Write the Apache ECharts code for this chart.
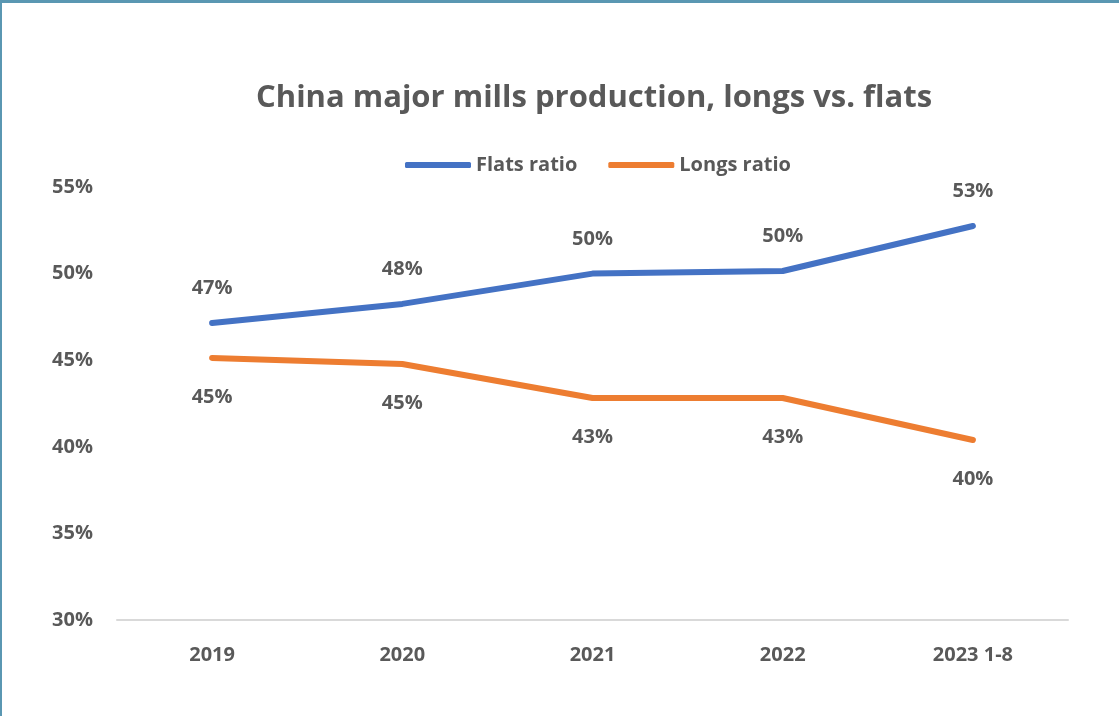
<!DOCTYPE html>
<html><head><meta charset="utf-8">
<script src="https://cdn.jsdelivr.net/npm/echarts@6/dist/echarts.min.js"></script>
<style>
html,body{margin:0;padding:0;background:#fff;}
#wrap{position:absolute;left:0;top:0;width:1119px;height:716px;box-sizing:border-box;border-top:3px solid #5A97B2;border-left:2px solid #5A97B2;}
#c{position:absolute;left:0;top:0;width:1119px;height:716px;}
</style></head>
<body>
<div id="c"></div>
<div id="wrap"></div>
<script>
const categories = ['2019','2020','2021','2022','2023 1-8'];
const flats = [47.15, 48.25, 50.0, 50.15, 52.75];
const longs = [45.13, 44.78, 42.82, 42.82, 40.39];
const yTicks = [30, 35, 40, 45, 50, 55];

const font = '"Open Sans", sans-serif';
const gray = '#595959';
const chart = echarts.init(document.getElementById('c'));
const lbl = {fontFamily: font, fontSize: 20, fontWeight: 'bold', color: gray};
chart.setOption({
  animation: false,
  title: {
    text: 'China major mills production, longs vs. flats',
    left: 251, top: 78,
    textStyle: {fontFamily: font, fontSize: 31, fontWeight: 'bold', color: gray}
  },
  legend: {
    top: 150, left: 400,
    itemWidth: 66, itemHeight: 6, itemGap: 31,
    icon: 'roundRect',
    textStyle: {fontFamily: font, fontSize: 20, fontWeight: 'bold', color: gray},
    data: ['Flats ratio', 'Longs ratio']
  },
  grid: {left: 117, right: 51, top: 187, bottom: 96},
  xAxis: {
    type: 'category', data: categories, boundaryGap: true,
    axisLine: {lineStyle: {color: '#d9d9d9', width: 2}},
    axisTick: {show: false},
    axisLabel: Object.assign({margin: 25}, lbl)
  },
  yAxis: {
    type: 'value', min: yTicks[0], max: yTicks[yTicks.length-1], interval: 5,
    splitLine: {show: false},
    axisLine: {show: false}, axisTick: {show: false},
    axisLabel: Object.assign({margin: 24, formatter: v => v + '%'}, lbl)
  },
  series: [
    {name: 'Flats ratio', type: 'line', data: flats, symbol: 'circle', symbolSize: 1, showSymbol: true,
     lineStyle: {width: 6, color: '#4472C4', cap: 'round'}, itemStyle: {color: '#4472C4'},
     label: Object.assign({show: true, position: 'top', distance: 24, formatter: p => Math.round(p.value) + '%'}, lbl)},
    {name: 'Longs ratio', type: 'line', data: longs, symbol: 'circle', symbolSize: 1, showSymbol: true,
     lineStyle: {width: 6, color: '#ED7D31', cap: 'round'}, itemStyle: {color: '#ED7D31'},
     label: Object.assign({show: true, position: 'bottom', distance: 29, formatter: p => Math.round(p.value) + '%'}, lbl)}
  ]
});
</script>
</body></html>
